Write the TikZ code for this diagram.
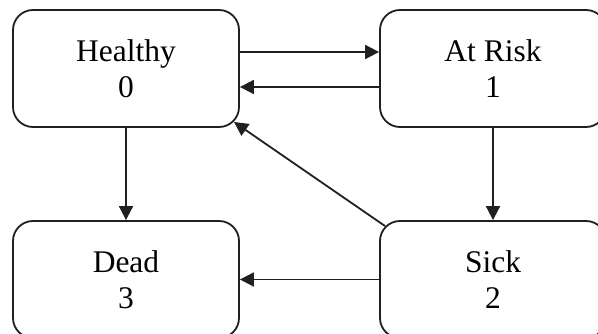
\documentclass[tikz,border=0pt]{standalone}
\usepackage{fontspec}
\setmainfont{Liberation Serif}
\usetikzlibrary{arrows.meta}
\definecolor{ink}{HTML}{231F20}
\begin{document}
\begin{tikzpicture}[x=1pt,y=1pt,
  state/.style={draw=ink, line width=1.8pt, rounded corners=20pt,
    minimum width=226pt, minimum height=117pt, inner sep=0pt,
    align=center, text=black, font=\fontsize{31.5}{36}\selectfont},
  conn/.style={draw=ink, line width=1.8pt, -{Triangle[length=14pt,width=14pt]}}]
\useasboundingbox (0,0) rectangle (598,-334);
\clip (0,0) rectangle (598,-334);
\node[state] (healthy) at (126,-68.5) {Healthy\\0};
\node[state] (atrisk) at (493,-68.5) {At Risk\\1};
\node[state] (dead) at (126,-279.5) {Dead\\3};
\node[state] (sick) at (493,-279.5) {Sick\\2};
\draw[conn] ([yshift=16.5pt]healthy.east) -- ([yshift=16.5pt]atrisk.west);
\draw[conn] ([yshift=-18.5pt]atrisk.west) -- ([yshift=-18.5pt]healthy.east);
\draw[conn] (healthy.south) -- (dead.north);
\draw[conn] (atrisk.south) -- (sick.north);
\draw[conn] (sick.west) -- (dead.east);
\draw[conn] ([shift={(5.9pt,-5.9pt)}]sick.north west) -- ([shift={(-5.9pt,5.9pt)}]healthy.south east);
\end{tikzpicture}
\end{document}
